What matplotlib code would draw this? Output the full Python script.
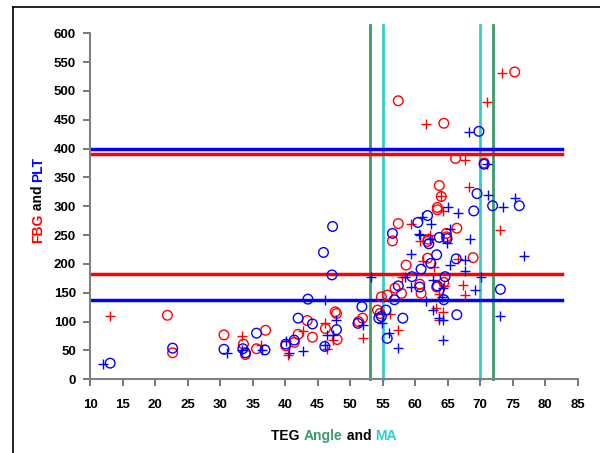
import matplotlib.pyplot as plt
from matplotlib.lines import Line2D

# FBG (red) and PLT (blue) against TEG MA (circles) and Angle (crosses)
fbg_ma_x = [21.9, 22.7, 30.6, 33.6, 33.9, 35.6, 37.0, 40.1, 41.4, 42.0, 43.4, 44.2, 46.2, 47.7,
            47.9, 48.0, 51.9, 51.3, 54.8, 54.2, 54.6, 55.7, 56.9, 57.9, 58.6, 60.7, 60.9, 61.9,
            63.3, 64.4, 68.9, 61.9, 62.0, 64.8, 64.8, 56.5, 57.4, 63.4, 66.4, 57.4, 64.4, 75.3,
            66.2, 70.6, 63.7, 64.0, 63.4]
fbg_ma_y = [111, 46, 77, 61, 43, 53, 85, 58, 64, 78, 102, 73, 88, 117,
            114, 69, 106, 100, 143, 120, 114, 146, 158, 149, 198, 165, 149, 210,
            160, 168, 211, 239, 243, 253, 247, 240, 270, 294, 262, 483, 444, 533,
            383, 375, 336, 317, 298]

fbg_angle_x = [13.1, 33.3, 36.3, 40.5, 42.7, 46.2, 46.5, 47.3, 52.0, 56.1, 57.4, 57.9, 61.2,
               62.9, 63.7, 63.2, 64.3, 63.6, 67.4, 67.7, 66.6, 60.7, 62.3, 59.4, 64.3, 73.0,
               61.6, 73.4, 71.0, 67.7, 68.3, 64.0, 64.4]
fbg_angle_y = [109, 75, 59, 43, 84, 98, 52, 68, 71, 114, 86, 177, 206,
               195, 148, 123, 117, 103, 164, 146, 209, 239, 250, 269, 291, 259,
               442, 532, 481, 381, 333, 317, 162]

plt_ma_x = [13.1, 22.7, 30.6, 33.5, 33.9, 35.6, 36.9, 40.1, 41.4, 42.0, 44.2, 43.5, 45.9, 47.3,
            47.2, 46.1, 47.9, 51.8, 51.2, 54.4, 54.8, 55.5, 55.7, 56.8, 57.4, 58.1, 59.5, 60.7,
            60.9, 62.4, 63.3, 63.4, 64.4, 64.6, 66.4, 66.3, 62.1, 63.7, 64.9, 56.5, 60.4, 61.9,
            69.0, 71.9, 76.0, 73.1, 69.8, 70.6, 69.5]
plt_ma_y = [28, 54, 52, 53, 46, 80, 51, 61, 68, 106, 96, 139, 220, 265,
            181, 57, 86, 126, 97, 106, 109, 120, 71, 138, 162, 106, 178, 160,
            191, 201, 216, 162, 138, 178, 112, 209, 235, 246, 244, 253, 272, 284,
            292, 301, 301, 156, 430, 373, 322]

plt_angle_x = [12.0, 31.0, 33.4, 36.4, 40.1, 40.6, 42.7, 46.1, 46.1, 46.5, 47.8, 47.4, 52.0,
               53.2, 54.9, 56.0, 57.4, 59.4, 58.4, 61.7, 62.8, 64.1, 64.3, 62.8, 63.7, 64.3,
               64.2, 69.2, 70.1, 67.7, 65.4, 67.7, 59.3, 60.6, 62.2, 64.9, 61.0, 62.4, 65.1,
               66.6, 73.5, 65.3, 68.4, 76.8, 73.0, 68.3, 71.0, 71.2, 75.3, 60.7]
plt_angle_y = [26, 45, 50, 50, 67, 46, 49, 138, 60, 77, 103, 77, 94,
               177, 97, 80, 54, 160, 178, 135, 172, 143, 158, 120, 106, 103,
               68, 155, 177, 188, 198, 207, 218, 252, 243, 236, 281, 269, 298,
               289, 298, 260, 243, 213, 109, 428, 373, 320, 314, 250]

# reference limits
fbg_limits = [182, 390]
plt_limits = [137, 400]
angle_limits = [53, 72]
ma_limits = [55, 70]

RED = "#ff0000"
BLUE = "#0000ff"
GREEN = "#3a9a6a"
CYAN = "#33cccc"

fig = plt.figure(figsize=(6, 4.53), dpi=100)
ax = fig.add_axes([0.15, 0.1627, 0.813, 0.7638])

for v in angle_limits:
    ax.plot([v, v], [0, 615], color=GREEN, lw=2, clip_on=False, zorder=1)
for v in ma_limits:
    ax.plot([v, v], [0, 615], color=CYAN, lw=2, clip_on=False, zorder=1)
for v in plt_limits:
    ax.plot([10, 82.5], [v, v], color=BLUE, lw=2.5, zorder=1)
for v in fbg_limits:
    ax.plot([10, 82.5], [v, v], color=RED, lw=2.5, zorder=1)

ax.scatter(fbg_ma_x, fbg_ma_y, s=48, facecolors="none", edgecolors=RED, linewidths=1, zorder=3)
ax.scatter(fbg_angle_x, fbg_angle_y, s=48, marker="+", color=RED, linewidths=1, zorder=3)
ax.scatter(plt_ma_x, plt_ma_y, s=48, facecolors="none", edgecolors=BLUE, linewidths=1, zorder=3)
ax.scatter(plt_angle_x, plt_angle_y, s=48, marker="+", color=BLUE, linewidths=1, zorder=3)

ax.set_xlim(10, 85)
ax.set_ylim(0, 600)
ax.set_xticks(range(10, 90, 5))
ax.set_yticks(range(0, 650, 50))
for side in ["top", "right"]:
    ax.spines[side].set_visible(False)
for side in ["left", "bottom"]:
    ax.spines[side].set_color("#808080")
    ax.spines[side].set_linewidth(1.5)
ax.tick_params(direction="out", length=5, width=1.2, color="#606060", labelsize=9.5)
ax.tick_params(axis="x", pad=9)
ax.tick_params(axis="y", pad=5)
for lab in ax.get_xticklabels() + ax.get_yticklabels():
    lab.set_fontweight("bold")
    lab.set_family("Liberation Sans")

# multi-coloured axis labels
fig.canvas.draw()
renderer = fig.canvas.get_renderer()


def colored_text(parts, x, y, rotation=0):
    # measure each piece, then lay them out centred on (x, y) in pixels
    texts = []
    sizes = []
    for s, c in parts:
        t = fig.text(0, 0, s, color=c, fontsize=10, fontweight="bold", family="Liberation Sans",
                     rotation=rotation, ha="left", va="bottom")
        bb = t.get_window_extent(renderer)
        texts.append(t)
        sizes.append(bb.height if rotation else bb.width)
    total = sum(sizes)
    H = fig.bbox.height
    W = fig.bbox.width
    pos = -total / 2
    for t, sz in zip(texts, sizes):
        if rotation:
            t.set_position((x / W, (H - y + pos) / H))
            t.set_va("bottom")
            t.set_ha("center")
        else:
            t.set_position(((x + pos) / W, 1 - y / H))
            t.set_va("center")
        pos += sz


colored_text([("TEG ", "black"), ("Angle", GREEN), (" and ", "black"), ("MA", CYAN)], 334, 436)
colored_text([("FBG", RED), (" and ", "black"), ("PLT", BLUE)], 38, 200, rotation=90)

# frame around the chart area
fx = 13 / 600
fy = 1 - 7 / 453
fig.add_artist(Line2D([fx, fx], [0, fy], color="black", lw=1.2))
fig.add_artist(Line2D([fx, 1], [fy, fy], color="black", lw=1.2))

fig.savefig("out.png", dpi=100)
